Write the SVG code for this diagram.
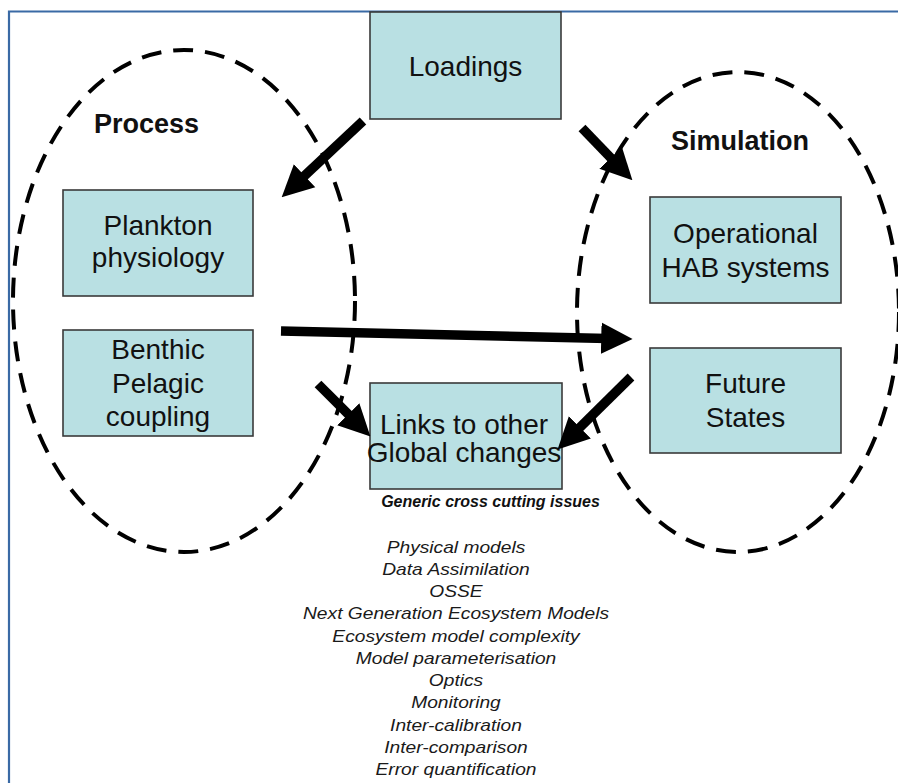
<svg xmlns="http://www.w3.org/2000/svg" width="898" height="783" viewBox="0 0 898 783">
<style>
.box{fill:#B9E0E3;stroke:#3a3a3a;stroke-width:1.6}
.bt{font-family:"Liberation Sans",Arial,sans-serif;font-size:28px;fill:#111;text-anchor:middle}
.hd{font-family:"Liberation Sans",Arial,sans-serif;font-size:27px;font-weight:bold;fill:#111}
.ell{fill:none;stroke:#000;stroke-width:4;stroke-dasharray:20 12}
.arr{stroke:#000;stroke-width:9.5;fill:none;marker-end:url(#ah)}
.li{font-family:"Liberation Sans",Arial,sans-serif;font-size:16px;font-style:italic;fill:#1a1a1a;text-anchor:middle}
.gen{font-family:"Liberation Sans",Arial,sans-serif;font-size:16px;font-style:italic;font-weight:bold;fill:#111;text-anchor:middle}
</style>
<defs>
<marker id="ah" viewBox="0 0 10 10" refX="2" refY="5" markerWidth="3.3" markerHeight="3.8" orient="auto" markerUnits="strokeWidth">
<path d="M0,0 L10,5 L0,10 z" fill="#000"/>
</marker>
</defs>
<rect width="898" height="783" fill="#fff"/>
<path d="M9,783 L9,11.5 L898,11.5" fill="none" stroke="#3a6aa5" stroke-width="2.2"/>
<g id="process-ellipse"><ellipse class="ell" cx="184" cy="301" rx="171" ry="251"/><text class="hd" x="94" y="133">Process</text></g>
<g id="simulation-ellipse"><ellipse class="ell" cx="738" cy="312" rx="161" ry="240"/><text class="hd" x="671" y="150">Simulation</text></g>
<g id="loadings"><rect class="box" x="370" y="12" width="191" height="107"/><text class="bt" x="465.5" y="76">Loadings</text></g>
<g id="plankton"><rect class="box" x="63" y="190" width="190" height="106"/><text class="bt" x="158" y="235">Plankton</text><text class="bt" x="158" y="267">physiology</text></g>
<g id="benthic"><rect class="box" x="63" y="330" width="190" height="106"/><text class="bt" x="158" y="359">Benthic</text><text class="bt" x="158" y="393">Pelagic</text><text class="bt" x="158" y="426">coupling</text></g>
<g id="operational"><rect class="box" x="650" y="197" width="191" height="106"/><text class="bt" x="745.5" y="243">Operational</text><text class="bt" x="745.5" y="277">HAB systems</text></g>
<g id="future"><rect class="box" x="650" y="348" width="191" height="105"/><text class="bt" x="745.5" y="393">Future</text><text class="bt" x="745.5" y="427">States</text></g>
<g id="links"><rect class="box" x="370" y="383" width="192" height="106"/><text class="bt" x="464" y="434">Links to other</text><text class="bt" x="464" y="462">Global changes</text></g>
<g id="connectors">
<line class="arr" x1="363" y1="121" x2="300" y2="180"/>
<line class="arr" x1="582" y1="128" x2="615" y2="162.3"/>
<line class="arr" x1="281" y1="331" x2="607.5" y2="338.4"/>
<line class="arr" x1="318" y1="384" x2="352.7" y2="418.7"/>
<line class="arr" x1="631" y1="377" x2="575.4" y2="431.8"/>
</g>
<g id="issues">
<text class="gen" x="490.5" y="507">Generic cross cutting issues</text>
<g transform="translate(456,0) scale(1.2,1)">
<text class="li" x="0" y="553">Physical models</text>
<text class="li" x="0" y="575">Data Assimilation</text>
<text class="li" x="0" y="597">OSSE</text>
<text class="li" x="0" y="619">Next Generation Ecosystem Models</text>
<text class="li" x="0" y="642">Ecosystem model complexity</text>
<text class="li" x="0" y="664">Model parameterisation</text>
<text class="li" x="0" y="686">Optics</text>
<text class="li" x="0" y="708">Monitoring</text>
<text class="li" x="0" y="731">Inter-calibration</text>
<text class="li" x="0" y="753">Inter-comparison</text>
<text class="li" x="0" y="775">Error quantification</text>
</g>
</g>
</svg>
